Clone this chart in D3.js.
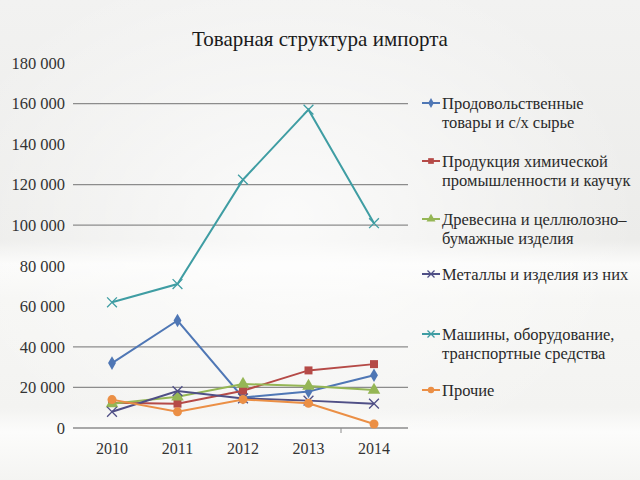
<!DOCTYPE html>
<html><head><meta charset="utf-8">
<script src="https://cdn.jsdelivr.net/npm/d3@7"></script>
<style>body{margin:0;background:#fff}svg{display:block;font-family:"Liberation Serif",serif}</style>
</head><body>
<script>
const years = ["2010","2011","2012","2013","2014"];
const seriesNames = [
  ["Продовольственные","товары и с/х сырье"],
  ["Продукция химической","промышленности и каучук"],
  ["Древесина и целлюлозно–","бумажные изделия"],
  ["Металлы и изделия из них"],
  ["Машины, оборудование,","транспортные средства"],
  ["Прочие"]
];
const food     = [32000, 53000, 15000, 18000, 26000];
const chem     = [12500, 12000, 18400, 28400, 31500];
const wood     = [12000, 15400, 21700, 20700, 18700];
const metals   = [8000, 18200, 14600, 13500, 12000];
const machines = [62000, 71000, 122500, 157000, 101000];
const other    = [14000, 8000, 14100, 12200, 2000];
const yTicks = [0,20000,40000,60000,80000,100000,120000,140000,160000,180000];
const gridVisible = [0,20000,40000,100000,120000,160000];

const seriesValues = [food, chem, wood, metals, machines, other];
const colors = ["#4f77b5","#b54a47","#95b655","#4f4f86","#3f9da3","#eb8f45"];
const markers = ["diamond","square","triangle","x","x","circle"];

const W=640,H=480;
const svg=d3.select("body").append("svg").attr("width",W).attr("height",H);
const defs=svg.append("defs");
const g1=defs.append("linearGradient").attr("id","bg").attr("x1",0).attr("y1",0).attr("x2",0).attr("y2",1);
[[0,"#f2f2f1"],[0.5,"#ececea"],[0.55,"#fbfbfa"],[0.62,"#f6f6f4"],[0.85,"#f3f3f1"],[0.9,"#fcfcfb"],[1,"#f4f4f2"]]
  .forEach(s=>g1.append("stop").attr("offset",s[0]).attr("stop-color",s[1]));
svg.append("rect").attr("width",W).attr("height",H).attr("fill","url(#bg)");
const g2=defs.append("radialGradient").attr("id","glow").attr("cx",0.45).attr("cy",0.45).attr("r",0.55);
g2.append("stop").attr("offset",0).attr("stop-color","#ffffff").attr("stop-opacity",0.75);
g2.append("stop").attr("offset",1).attr("stop-color","#ffffff").attr("stop-opacity",0);
svg.append("rect").attr("width",W).attr("height",H).attr("fill","url(#glow)");

const x=d3.scalePoint().domain(years).range([112,374]);
const y=d3.scaleLinear().domain([0,180000]).range([428,63]);
const font="Liberation Serif";

svg.append("text").attr("x",320).attr("y",46).attr("text-anchor","middle")
  .style("font-family",font).attr("font-size",21).attr("fill","#1a1a1a").text("Товарная структура импорта");

// grid lines
svg.append("g").selectAll("line").data(gridVisible).join("line")
  .attr("x1",73).attr("x2",408).attr("y1",d=>y(d)).attr("y2",d=>y(d))
  .attr("stroke","#8c8c8c").attr("stroke-width",1.3);

// y labels
const fmt=d=>d3.format(",")(d).replace(/,/g," ");
svg.append("g").selectAll("text").data(yTicks).join("text")
  .attr("x",65).attr("y",d=>y(d)).attr("dy","0.35em").attr("text-anchor","end")
  .style("font-family",font).attr("font-size",16.5).attr("fill","#333").text(fmt);

// x labels
svg.append("g").selectAll("text").data(years).join("text")
  .attr("x",d=>x(d)).attr("y",454).attr("text-anchor","middle")
  .style("font-family",font).attr("font-size",16).attr("fill","#333").text(d=>d);
svg.append("line").attr("x1",341).attr("x2",341).attr("y1",428).attr("y2",433).attr("stroke","#8c8c8c");

const line=d3.line().x((d,i)=>x(years[i])).y(d=>y(d));
function drawMarker(sel,type,color,size){
  if(type==="x"){
    const s=size*0.7;
    sel.append("path").attr("d",`M${-s},${-s}L${s},${s}M${-s},${s}L${s},${-s}`)
      .attr("stroke",color).attr("stroke-width",1.3).attr("fill","none");
  } else {
    const sym={diamond:d3.symbolDiamond,square:d3.symbolSquare,triangle:d3.symbolTriangle,circle:d3.symbolCircle}[type];
    const area={diamond:size*size*1.1,square:size*size*1.3,triangle:size*size*1.4,circle:size*size*1.3}[type];
    sel.append("path").attr("d",d3.symbol().type(sym).size(area)()).attr("fill",color);
  }
}
seriesValues.forEach((vals,k)=>{
  const g=svg.append("g");
  g.append("path").datum(vals).attr("d",line).attr("fill","none")
    .attr("stroke",colors[k]).attr("stroke-width",2);
  vals.forEach((v,i)=>{
    const m=g.append("g").attr("transform",`translate(${x(years[i])},${y(v)})`);
    drawMarker(m,markers[k],colors[k],7);
  });
});

// legend
const legendY=[103,161,219,274,334,390];
seriesNames.forEach((lines,k)=>{
  const g=svg.append("g").attr("transform",`translate(0,${legendY[k]})`);
  g.append("line").attr("x1",422).attr("x2",440).attr("y1",0).attr("y2",0)
    .attr("stroke",colors[k]).attr("stroke-width",2);
  const m=g.append("g").attr("transform","translate(431,0)");
  drawMarker(m,markers[k],colors[k],5);
  lines.forEach((t,j)=>{
    g.append("text").attr("x",442).attr("y",j*19).attr("dy","0.35em")
      .style("font-family",font).attr("font-size",16.5).attr("fill","#2a2a2a").text(t);
  });
});
</script>
</body></html>
